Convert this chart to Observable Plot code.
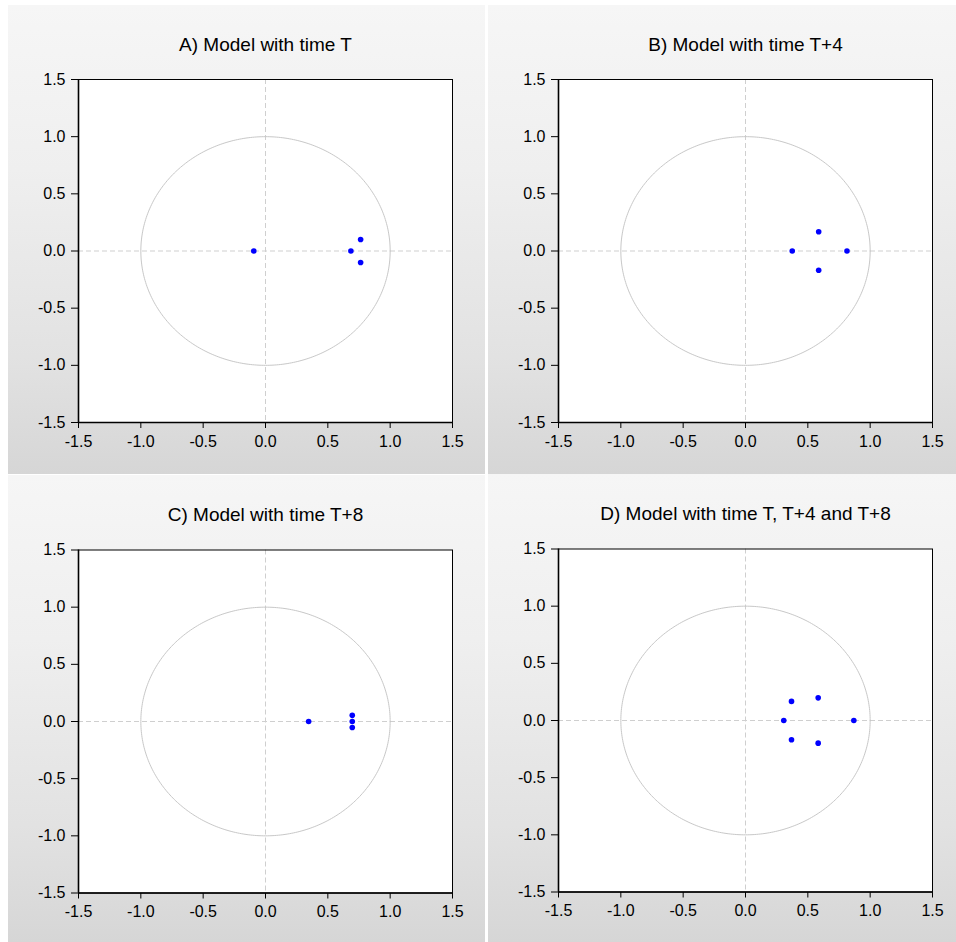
<!DOCTYPE html>
<html>
<head>
<meta charset="utf-8">
<script src="https://cdn.jsdelivr.net/npm/d3@7"></script>
<script src="https://cdn.jsdelivr.net/npm/@observablehq/plot@0.6"></script>
<style>
  html, body { margin: 0; padding: 0; background: #ffffff; }
  #wrap { position: relative; width: 956px; height: 942px; overflow: hidden; background: #ffffff; }
  .panel { position: absolute; background: linear-gradient(to bottom, #f6f6f6 0%, #efefef 35%, #e2e2e2 75%, #d6d6d6 100%); }
  .panel svg { display: block; }
</style>
</head>
<body>
<div id="wrap"></div>
<script>
// ---- Data (inverse roots of AR characteristic polynomial) ----
const titles = [
  "A) Model with time T",
  "B) Model with time T+4",
  "C) Model with time T+8",
  "D) Model with time T, T+4 and T+8"
];
const rootsA_re = [-0.094, 0.685, 0.763, 0.763];
const rootsA_im = [0.0, 0.0, 0.101, -0.101];
const rootsB_re = [0.375, 0.587, 0.587, 0.814];
const rootsB_im = [0.0, 0.168, -0.168, 0.0];
const rootsC_re = [0.346, 0.696, 0.696, 0.696];
const rootsC_im = [0.0, 0.054, 0.0, -0.053];
const rootsD_re = [0.307, 0.369, 0.369, 0.583, 0.583, 0.869];
const rootsD_im = [0.0, 0.167, -0.168, 0.198, -0.198, 0.0];
const tickValues = [-1.5, -1.0, -0.5, 0.0, 0.5, 1.0, 1.5];

const series = [
  [rootsA_re, rootsA_im],
  [rootsB_re, rootsB_im],
  [rootsC_re, rootsC_im],
  [rootsD_re, rootsD_im]
];

// unit circle reference
const unitCircle = d3.range(0, 361).map(a => ({x: Math.cos(a * Math.PI / 180), y: Math.sin(a * Math.PI / 180)}));

// panel placement
const panels = [
  {left: 8,   top: 5,   width: 477, height: 469},
  {left: 488, top: 5,   width: 468, height: 469},
  {left: 8,   top: 475, width: 477, height: 467},
  {left: 488, top: 474, width: 468, height: 468}
];

const fmt = d => d.toFixed(1);
const wrap = document.getElementById("wrap");

panels.forEach((p, i) => {
  const [re, im] = series[i];
  const pts = re.map((r, k) => ({x: r, y: im[k]}));
  const div = document.createElement("div");
  div.className = "panel";
  div.style.left = p.left + "px";
  div.style.top = p.top + "px";
  div.style.width = p.width + "px";
  div.style.height = p.height + "px";
  const plotTop = i < 2 ? 74 : 74.5;
  const chart = Plot.plot({
    width: p.width,
    height: p.height,
    marginLeft: 70,
    marginRight: p.width - 70 - 374,
    marginTop: plotTop,
    marginBottom: p.height - plotTop - 343,
    style: {background: "transparent", fontFamily: "'Liberation Sans', Arial, Helvetica, sans-serif", fontSize: "16px", color: "#000", overflow: "visible"},
    x: {domain: [-1.5, 1.5], ticks: tickValues, tickFormat: fmt, tickSize: 6, tickPadding: 7, label: null},
    y: {domain: [-1.5, 1.5], ticks: tickValues, tickFormat: fmt, tickSize: 7, tickPadding: 6, label: null},
    marks: [
      Plot.frame({fill: "#ffffff", stroke: null}),
      Plot.ruleX([0], {stroke: "#cfcfcf", strokeWidth: 1, strokeDasharray: "5,3"}),
      Plot.ruleY([0], {stroke: "#cfcfcf", strokeWidth: 1, strokeDasharray: "5,3"}),
      Plot.line(unitCircle, {x: "x", y: "y", stroke: "#c8c8c8", strokeWidth: 1}),
      Plot.dot(pts, {x: "x", y: "y", r: 2.8, fill: "#0000ff", stroke: null}),
      Plot.frame({stroke: "#000", strokeWidth: 1}),
      Plot.ruleX([-1.5], {stroke: "#000", strokeWidth: 1.6}),
      Plot.ruleY([-1.5], {stroke: "#000", strokeWidth: 1.6}),
      Plot.text([titles[i]], {text: d => d, frameAnchor: "top", dy: -29, lineAnchor: "bottom", fontSize: 19, fill: "#000"})
    ]
  });
  div.appendChild(chart);
  wrap.appendChild(div);
});
</script>
</body>
</html>
